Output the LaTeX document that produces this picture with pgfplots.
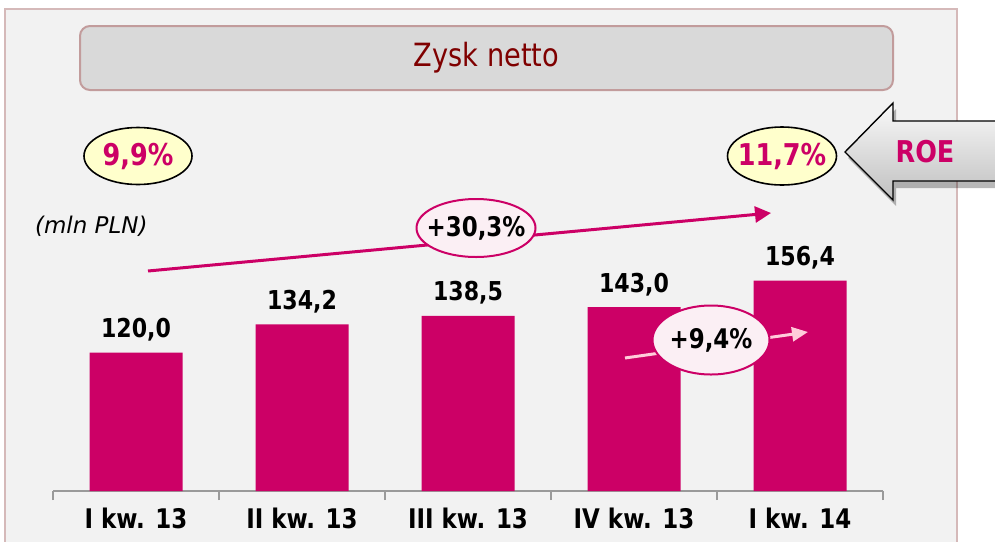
\documentclass[border=0pt]{standalone}
\usepackage{pgfplots}
\pgfplotsset{compat=1.18}
\usetikzlibrary{arrows.meta}
\usepackage{fontspec}
\setmainfont{DejaVu Sans}[FakeStretch=0.85]
\newfontfamily\plainfont{DejaVu Sans}
\definecolor{mag}{HTML}{CC0066}
\definecolor{panel}{HTML}{F2F2F2}
\definecolor{panelborder}{HTML}{D5B9B9}
\definecolor{titlefill}{HTML}{D9D9D9}
\definecolor{titleborder}{HTML}{C29C9C}
\definecolor{titletext}{HTML}{7F0000}
\definecolor{axisgray}{HTML}{9A9A9A}
\definecolor{ellyellow}{HTML}{FFFFCC}
\definecolor{ellpink}{HTML}{FBEFF4}
\definecolor{lightpink}{HTML}{FFCCDA}
\pgfplotstableread{
x y
0 120.0
1 134.2
2 138.5
3 143.0
4 156.4
}\netprofit
\begin{document}
\begin{tikzpicture}[x=0.5pt,y=-0.5pt]
% panel
\fill[panel] (5,9) rectangle (957,560);
\draw[panelborder, line width=0.8pt] (5,560) -- (5,9) -- (957,9) -- (957,560);
% title box
\draw[fill=titlefill, draw=titleborder, line width=1pt, rounded corners=5pt] (80,26) rectangle (893,90);
\node[text=titletext, font=\fontsize{16}{19}\selectfont] at (486.5,58) {Zysk netto};
\coordinate (axpos) at (53,491);
\begin{axis}[
  at={(axpos)}, anchor=south west,
  scale only axis, width=415pt, height=227.5pt,
  xmin=-0.5, xmax=4.5, ymin=50, ymax=280,
  axis x line*=bottom, axis y line=none,
  x axis line style={draw=axisgray, line width=0.75pt, -},
  xtick={0,...,4},
  xticklabels={I kw. 13, II kw. 13, III kw. 13, IV kw. 13, I kw. 14},
  major tick length=0pt,
  minor xtick={-0.5,0.5,...,4.5},
  minor tick length=4.5pt,
  xtick align=outside,
  every minor tick/.style={draw=axisgray, line width=0.75pt},
  xticklabel style={font=\fontsize{13.5}{16}\selectfont\bfseries, text=black, yshift=-5pt},
  ytick=\empty,
  ybar, bar width=46.5pt,
  nodes near coords={\pgfmathprintnumber[fixed, fixed zerofill, precision=1, use comma, assume math mode=true]{\pgfplotspointmeta}},
  every node near coord/.append style={anchor=base, yshift=7.5pt, font=\fontsize{13}{15}\selectfont\bfseries, text=black},
  clip=false,
]
\addplot[fill=mag, draw=none] table[x=x, y=y] {\netprofit};
\end{axis}
% (mln PLN)
\node[font=\plainfont\itshape\fontsize{11.5}{14}\selectfont, anchor=west] at (28,226) {(mln PLN)};
% big growth arrow
\draw[mag, line width=1.5pt, -{Triangle[length=8pt, width=8pt]}] (148,271) -- (771,213);
\draw[mag, line width=1pt, fill=ellpink] (476,228) ellipse [x radius=29.75pt, y radius=14.5pt];
\node[font=\fontsize{13.5}{16}\selectfont\bfseries] at (476,228) {+30,3\%};
% small growth arrow
\draw[lightpink, line width=1.5pt, -{Triangle[length=8pt, width=7pt]}] (625,358) -- (808,332);
\draw[mag, line width=1pt, fill=ellpink] (711,340) ellipse [x radius=29.25pt, y radius=17.25pt];
\node[font=\fontsize{13.5}{16}\selectfont\bfseries] at (711,340) {+9,4\%};
% ROE ellipses
\draw[black, line width=0.8pt, fill=ellyellow] (138,156) ellipse [x radius=27pt, y radius=14.25pt];
\node[text=mag, font=\fontsize{15}{18}\selectfont\bfseries] at (138,156) {9,9\%};
\draw[black, line width=0.8pt, fill=ellyellow] (782,156) ellipse [x radius=27.25pt, y radius=14.5pt];
\node[text=mag, font=\fontsize{15}{18}\selectfont\bfseries] at (782,156) {11,7\%};
% ROE arrow
\fill[black, opacity=0.28] (848,158) -- (896,109) -- (896,127) -- (1000,127) -- (1000,188) -- (896,188) -- (896,206) -- cycle;
\shade[top color=white!96!gray, bottom color=gray!50] (845,152) -- (893,103) -- (893,121) -- (1000,121) -- (1000,181) -- (893,181) -- (893,200) -- cycle;
\draw[black, line width=0.7pt] (1000,121) -- (893,121) -- (893,103) -- (845,152) -- (893,200) -- (893,181) -- (1000,181);
\node[text=mag, font=\fontsize{15}{18}\selectfont\bfseries] at (925,152) {ROE};
\pgfresetboundingbox
\path[use as bounding box] (0,0) rectangle (995,541);
\end{tikzpicture}
\end{document}
